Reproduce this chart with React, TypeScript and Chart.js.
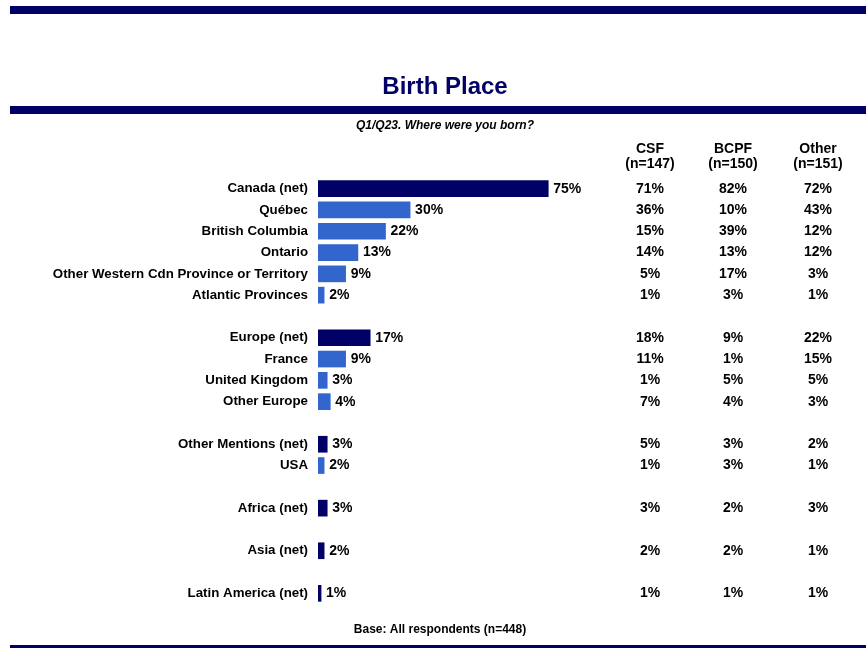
import React, { useEffect, useRef } from "react";
import { Chart, registerables } from "chart.js";

Chart.register(...registerables);

const categories = [
  "Canada (net)",
  "Québec",
  "British Columbia",
  "Ontario",
  "Other Western Cdn Province or Territory",
  "Atlantic Provinces",
  "",
  "Europe (net)",
  "France",
  "United Kingdom",
  "Other Europe",
  "",
  "Other Mentions (net)",
  "USA",
  "",
  "Africa (net)",
  "",
  "Asia (net)",
  "",
  "Latin America (net)",
];
const totalValues = [75, 30, 22, 13, 9, 2, null, 17, 9, 3, 4, null, 3, 2, null, 3, null, 2, null, 1];
const netRows = [true, false, false, false, false, false, false, true, false, false, false, false, true, false, false, true, false, true, false, true];
const csfValues = [71, 36, 15, 14, 5, 1, null, 18, 11, 1, 7, null, 5, 1, null, 3, null, 2, null, 1];
const bcpfValues = [82, 10, 39, 13, 17, 3, null, 9, 1, 5, 4, null, 3, 3, null, 2, null, 2, null, 1];
const otherValues = [72, 43, 12, 12, 3, 1, null, 22, 15, 5, 3, null, 2, 1, null, 3, null, 1, null, 1];
const columnHeaders = ["CSF", "BCPF", "Other"];
const columnBases = ["(n=147)", "(n=150)", "(n=151)"];
const titleText = "Birth Place";
const questionText = "Q1/Q23. Where were you born?";
const baseText = "Base: All respondents (n=448)";

const NAVY = "#000066";
const BLUE = "#3366CC";
const FONT = '"Liberation Sans", Arial, sans-serif';

export default function App() {
  const ref = useRef<HTMLCanvasElement | null>(null);

  useEffect(() => {
    if (!ref.current) return;
    const decor = {
      id: "decor",
      afterDraw(chart: any) {
        const ctx = chart.ctx as CanvasRenderingContext2D;
        const W = chart.width;
        ctx.save();
        // bands
        ctx.fillStyle = NAVY;
        ctx.fillRect(10, 6, W - 10, 8);
        ctx.fillRect(10, 106, W - 10, 8);
        ctx.fillRect(10, 645, W - 10, 3);
        // title
        ctx.fillStyle = NAVY;
        ctx.textAlign = "center";
        ctx.textBaseline = "middle";
        ctx.font = `bold 24px ${FONT}`;
        ctx.fillText(titleText, 445, 87);
        ctx.fillStyle = "#000";
        ctx.font = `italic bold 12px ${FONT}`;
        ctx.fillText(questionText, 445, 126);
        ctx.font = `bold 12px ${FONT}`;
        ctx.fillText(baseText, 440, 630);
        // headers
        const colX = [650, 733, 818];
        ctx.font = `bold 14px ${FONT}`;
        columnHeaders.forEach((h, i) => {
          ctx.fillText(h, colX[i], 149);
          ctx.fillText(columnBases[i], colX[i], 164);
        });
        const xs = chart.scales.x;
        const ys = chart.scales.y;
        const cols = [csfValues, bcpfValues, otherValues];
        totalValues.forEach((v, i) => {
          if (v === null) return;
          const y = ys.getPixelForValue(i);
          ctx.textAlign = "left";
          ctx.fillText(v + "%", xs.getPixelForValue(v) + 5, y);
          ctx.textAlign = "center";
          cols.forEach((c, k) => {
            const cv = c[i];
            if (cv !== null) ctx.fillText(cv + "%", colX[k], y);
          });
        });
        ctx.restore();
      },
    };
    const chart = new Chart(ref.current, {
      type: "bar",
      data: {
        labels: categories,
        datasets: [
          {
            data: totalValues as any,
            backgroundColor: netRows.map((n) => (n ? NAVY : BLUE)),
            barThickness: 16,
          },
        ],
      },
      options: {
        indexAxis: "y",
        responsive: false,
        animation: false,
        devicePixelRatio: 1,
        layout: { padding: { top: 178, bottom: 45, left: 0, right: 241 } },
        plugins: { legend: { display: false }, tooltip: { enabled: false } },
        scales: {
          x: { display: false, min: 0, max: 100 },
          y: {
            grid: { display: false, drawTicks: false },
            border: { display: false },
            afterFit: (s: any) => {
              s.width = 318;
            },
            ticks: {
              padding: 10,
              color: "#000",
              autoSkip: false,
              font: { family: FONT, size: 13.3, weight: "bold" },
            },
          },
        },
      },
      plugins: [decor],
    });
    return () => chart.destroy();
  }, []);

  return (
    <div style={{ position: "absolute", left: 0, top: 0, width: 866, height: 649, background: "#fff" }}>
      <canvas ref={ref} width={866} height={649} />
    </div>
  );
}
